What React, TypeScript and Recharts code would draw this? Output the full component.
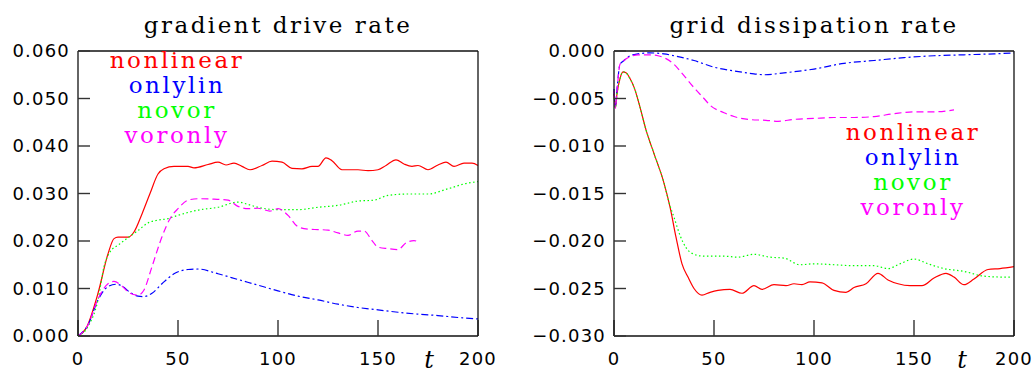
import { LineChart, Line, XAxis, YAxis } from 'recharts';

// time / value pairs
const driveNonlinear = [
  [0, 0], [4, 0.0016], [10, 0.009], [15, 0.0173], [18, 0.0205], [20, 0.0208], [25, 0.0208],
  [28, 0.0219], [32, 0.0257], [36, 0.03], [40, 0.0341], [43, 0.0352], [48, 0.0357], [55, 0.0357],
  [58, 0.0354], [65, 0.0361], [70, 0.0366], [74, 0.036], [78, 0.0364], [82, 0.0357], [86, 0.035],
  [92, 0.0359], [97, 0.0368], [102, 0.0366], [107, 0.0353], [112, 0.0352], [117, 0.0357],
  [120, 0.0357], [124, 0.0375], [127, 0.0369], [132, 0.035], [140, 0.035], [145, 0.0348],
  [150, 0.035], [154, 0.0359], [159, 0.0371], [163, 0.0362], [167, 0.0357], [170, 0.0359],
  [175, 0.035], [180, 0.036], [184, 0.0366], [188, 0.0357], [193, 0.0364], [197, 0.0364], [200, 0.0359],
];
const driveOnlylin = [
  [0, 0], [5, 0.0023], [10, 0.0076], [15, 0.0104], [19, 0.0109], [22, 0.0105], [26, 0.0092],
  [30, 0.0084], [33, 0.0083], [37, 0.009], [42, 0.011], [48, 0.0131], [55, 0.014], [60, 0.0141],
  [70, 0.0131], [80, 0.0119], [90, 0.0107], [100, 0.0095], [110, 0.0084], [120, 0.0076],
  [130, 0.0067], [140, 0.006], [150, 0.0055], [160, 0.005], [170, 0.0046], [180, 0.0043],
  [190, 0.0039], [200, 0.0036],
];
const driveNovor = [
  [0, 0], [5, 0.002], [10, 0.0076], [13, 0.0146], [16, 0.0177], [20, 0.0191], [25, 0.0207],
  [30, 0.0222], [35, 0.0238], [40, 0.0244], [45, 0.0247], [50, 0.0254], [60, 0.0265], [70, 0.0271],
  [80, 0.0282], [85, 0.0277], [90, 0.0271], [100, 0.0266], [110, 0.0266], [120, 0.0271],
  [130, 0.0275], [140, 0.0284], [148, 0.0286], [155, 0.0296], [165, 0.0299], [175, 0.0299],
  [185, 0.031], [195, 0.0322], [200, 0.0325],
];
const driveVoronly = [
  [0, 0], [5, 0.0023], [10, 0.0078], [15, 0.011], [18, 0.0115], [22, 0.0105], [26, 0.009],
  [30, 0.0086], [33, 0.0097], [37, 0.0146], [42, 0.0209], [46, 0.0247], [50, 0.0268], [55, 0.0286],
  [60, 0.0289], [68, 0.0288], [75, 0.0286], [80, 0.0273], [85, 0.0268], [90, 0.0269], [96, 0.0263],
  [100, 0.0268], [105, 0.0254], [110, 0.023], [115, 0.0225], [120, 0.0224], [125, 0.0223],
  [130, 0.0217], [135, 0.0212], [140, 0.0221], [143, 0.0221], [147, 0.0201], [150, 0.0187],
  [155, 0.0184], [160, 0.0182], [164, 0.0196], [168, 0.0201], [170, 0.0198],
];

const gridNonlinear = [
  [0, -0.0045], [0.7, -0.006], [1.5, -0.0045], [3, -0.0029], [4.5, -0.0022], [6, -0.0023],
  [8, -0.0029], [10, -0.0038], [13, -0.0059], [16, -0.0083], [20, -0.0108], [25, -0.0139],
  [28, -0.0164], [31, -0.0196], [34, -0.0224], [37, -0.0238], [40, -0.025], [44, -0.0257],
  [48, -0.0254], [52, -0.0252], [58, -0.0251], [64, -0.0255], [70, -0.0247], [74, -0.0251],
  [80, -0.0246], [86, -0.0247], [90, -0.0245], [94, -0.0246], [98, -0.0243], [104, -0.0244],
  [110, -0.0252], [116, -0.0254], [120, -0.0249], [126, -0.0245], [132, -0.0234], [137, -0.0241],
  [142, -0.0245], [148, -0.0247], [154, -0.0247], [160, -0.0239], [166, -0.0234], [170, -0.0238],
  [175, -0.0246], [180, -0.024], [187, -0.023], [193, -0.0229], [200, -0.0227],
];
const gridOnlylin = [
  [0, -0.004], [0.7, -0.0058], [1.5, -0.004], [3, -0.0014], [5, -0.001], [8, -0.0005],
  [12, -0.0003], [18, -0.0002], [25, -0.0003], [30, -0.0005], [40, -0.001], [50, -0.0017],
  [60, -0.0021], [70, -0.0024], [75, -0.0025], [85, -0.0023], [100, -0.0019], [115, -0.0013],
  [130, -0.001], [145, -0.0007], [160, -0.0005], [175, -0.0004], [190, -0.0003], [200, -0.0002],
];
const gridNovor = [
  [0, -0.0045], [0.7, -0.006], [1.5, -0.0045], [3, -0.0029], [4.5, -0.0022], [6, -0.0023],
  [8, -0.0029], [10, -0.0038], [13, -0.0059], [16, -0.0083], [20, -0.0108], [25, -0.0139],
  [28, -0.0163], [30, -0.0175], [33, -0.0194], [36, -0.0207], [40, -0.0214], [45, -0.0216],
  [55, -0.0216], [62, -0.0217], [70, -0.0214], [78, -0.0217], [85, -0.0218], [93, -0.0225],
  [100, -0.0224], [110, -0.0225], [120, -0.0226], [130, -0.0226], [137, -0.0229], [143, -0.0224],
  [150, -0.0219], [157, -0.0224], [165, -0.0229], [175, -0.0232], [185, -0.0237], [195, -0.0238],
  [198, -0.0238],
];
const gridVoronly = [
  [0, -0.0042], [0.7, -0.006], [1.5, -0.0042], [3, -0.0014], [5, -0.001], [8, -0.0006],
  [12, -0.0004], [18, -0.0004], [22, -0.0005], [26, -0.0008], [30, -0.0014], [35, -0.0026],
  [41, -0.0041], [45, -0.005], [48, -0.0057], [55, -0.0065], [60, -0.0069], [67, -0.0072],
  [76, -0.0073], [82, -0.0074], [90, -0.0072], [100, -0.0071], [110, -0.007], [120, -0.007],
  [130, -0.0069], [140, -0.0066], [150, -0.0064], [160, -0.0064], [170, -0.0062],
];

const tTicks = [0, 50, 100, 150, 200];
const driveTicks = [0, 0.01, 0.02, 0.03, 0.04, 0.05, 0.06];
const gridTicks = [-0.03, -0.025, -0.02, -0.015, -0.01, -0.005, 0];
const seriesNames = ['nonlinear', 'onlylin', 'novor', 'voronly'];
const seriesColors = ['#ff0000', '#0000ff', '#00ff00', '#ff00ff'];
const seriesDash = [undefined, '7 3 2 3', '1.5 2.5', '7 4'];

const toRows = (pairs: number[][]) => pairs.map(([t, v]) => ({ t, v }));

const SANS = 'DejaVu Sans';
const SERIF = 'DejaVu Serif';
const FRAME = { stroke: '#111', strokeWidth: 1.3 };
const TICKLINE = { stroke: '#333', strokeWidth: 1.4 };
const TICK_TEXT = { fill: '#000', fontFamily: SANS, fontSize: 18, letterSpacing: 1.2 };
const NO_TEXT = { fill: 'none', fontSize: 1 };

const fmtDrive = (v: number) => v.toFixed(3);
const fmtGrid = (v: number) => (v < 0 ? '\u2212' + Math.abs(v).toFixed(3) : '0.000');
const blank = () => '';

function Panel({
  width,
  yWidth,
  marginRight,
  domain,
  ticks,
  fmt,
  series,
}: {
  width: number;
  yWidth: number;
  marginRight: number;
  domain: [number, number];
  ticks: number[];
  fmt: (v: number) => string;
  series: number[][][];
}) {
  return (
    <LineChart width={width} height={371} margin={{ top: 50, right: marginRight - 1, bottom: 0, left: 0 }}>
      {/* negative tickSize turns the tick marks inward; top/right axes only close the frame */}
      <XAxis
        xAxisId="b"
        dataKey="t"
        type="number"
        domain={[0, 200]}
        ticks={tTicks}
        height={35}
        tickSize={-16}
        tickMargin={32.7}
        tickLine={TICKLINE}
        axisLine={FRAME}
        tick={TICK_TEXT}
        interval={0}
      />
      <XAxis
        xAxisId="top"
        orientation="top"
        dataKey="t"
        type="number"
        domain={[0, 200]}
        ticks={tTicks}
        height={1}
        tickSize={-16}
        tickMargin={0}
        tickLine={TICKLINE}
        axisLine={FRAME}
        tick={NO_TEXT}
        tickFormatter={blank}
        interval={0}
      />
      <YAxis
        yAxisId="l"
        type="number"
        domain={domain}
        ticks={ticks}
        width={yWidth}
        tickSize={-12}
        tickMargin={20}
        tickLine={TICKLINE}
        allowDataOverflow
        axisLine={FRAME}
        tick={TICK_TEXT}
        tickFormatter={fmt}
        interval={0}
      />
      <YAxis
        yAxisId="r"
        orientation="right"
        type="number"
        domain={domain}
        ticks={ticks}
        width={1}
        tickSize={-12}
        tickMargin={0}
        tickLine={TICKLINE}
        axisLine={FRAME}
        tick={NO_TEXT}
        tickFormatter={blank}
        interval={0}
      />
      {series.map((s, i) => (
        <Line
          key={seriesNames[i]}
          xAxisId="b"
          yAxisId="l"
          data={toRows(s)}
          dataKey="v"
          type="monotone"
          stroke={seriesColors[i]}
          strokeWidth={1.2}
          strokeDasharray={seriesDash[i]}
          dot={false}
          activeDot={false}
          isAnimationActive={false}
        />
      ))}
    </LineChart>
  );
}

function Labels({ cx, top }: { cx: number; top: number }) {
  return (
    <>
      {seriesNames.map((n, i) => (
        <text
          key={n}
          x={cx}
          y={top + i * 25}
          textAnchor="middle"
          fontFamily={SERIF}
          fontSize={23}
          letterSpacing={2.6}
          fill={seriesColors[i]}
        >
          {n}
        </text>
      ))}
    </>
  );
}

export default function App() {
  return (
    <div style={{ position: 'absolute', left: 0, top: 0, width: 1035, height: 371, background: '#fff', overflow: 'hidden' }}>
      <div style={{ position: 'absolute', left: 0, top: 0 }}>
        <Panel
          width={520}
          yWidth={78}
          marginRight={42}
          domain={[0, 0.06]}
          ticks={driveTicks}
          fmt={fmtDrive}
          series={[driveNonlinear, driveOnlylin, driveNovor, driveVoronly]}
        />
      </div>
      <div style={{ position: 'absolute', left: 520, top: 0 }}>
        <Panel
          width={515}
          yWidth={94}
          marginRight={21}
          domain={[-0.03, 0]}
          ticks={gridTicks}
          fmt={fmtGrid}
          series={[gridNonlinear, gridOnlylin, gridNovor, gridVoronly]}
        />
      </div>
      <svg width={1035} height={371} style={{ position: 'absolute', left: 0, top: 0, pointerEvents: 'none' }}>
        <text x={278} y={33} textAnchor="middle" fontFamily={SERIF} fontSize={23} letterSpacing={2.5} fill="#000">
          gradient drive rate
        </text>
        <text x={814} y={33} textAnchor="middle" fontFamily={SERIF} fontSize={23} letterSpacing={2.5} fill="#000">
          grid dissipation rate
        </text>
        <Labels cx={177} top={68} />
        <Labels cx={913} top={140} />
        <text x={429} y={368} textAnchor="middle" fontFamily={SERIF} fontStyle="italic" fontSize={24} fill="#000">
          t
        </text>
        <text x={962} y={368} textAnchor="middle" fontFamily={SERIF} fontStyle="italic" fontSize={24} fill="#000">
          t
        </text>
      </svg>
    </div>
  );
}
